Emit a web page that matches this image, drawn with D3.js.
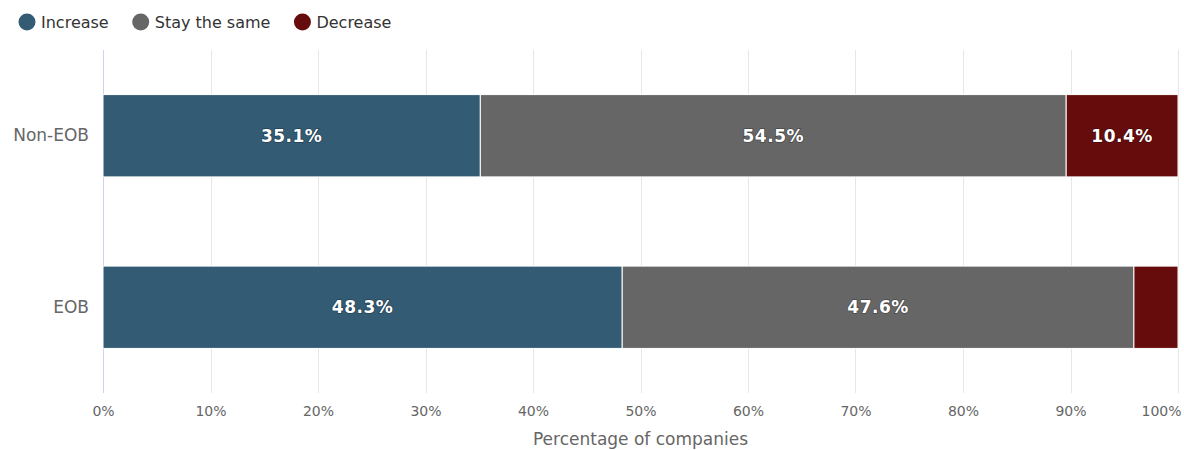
<!DOCTYPE html>
<html>
<head>
<meta charset="utf-8">
<script src="https://cdn.jsdelivr.net/npm/d3@7/dist/d3.min.js"></script>
<style>
  html, body { margin: 0; padding: 0; background: #fff; }
  svg { display: block; }
</style>
</head>
<body>
<svg id="chart" width="1184" height="450"></svg>
<script>
// Share of companies by expected change, per group (percent)
const categories = ["Non-EOB", "EOB"];
const seriesNames = ["Increase", "Stay the same", "Decrease"];
const increase = [35.1, 48.3];
const staySame = [54.5, 47.6];
const decrease = [10.4, 4.1];
const colors = ["#335b74", "#666666", "#660c0c"];
const xTicks = [0, 10, 20, 30, 40, 50, 60, 70, 80, 90, 100];
const xTitle = "Percentage of companies";

const FONT = "'DejaVu Sans', Verdana, sans-serif";
const seriesValues = [increase, staySame, decrease];
const rows = categories.map((c, i) => {
  const r = { category: c };
  seriesNames.forEach((s, k) => { r[s] = seriesValues[k][i]; });
  return r;
});
const stacked = d3.stack().keys(seriesNames)(rows);

const svg = d3.select("#chart");
const margin = { left: 103, right: 6, top: 50, bottom: 57 };
const W = 1184, H = 450;

const x = d3.scaleLinear().domain([0, 100]).range([margin.left, W - margin.right]);
const y = d3.scaleBand().domain(categories).range([margin.top, H - margin.bottom]).paddingInner(0.52).paddingOuter(0.26);

// vertical grid lines
svg.append("g").selectAll("line").data(xTicks).join("line")
  .attr("x1", d => Math.round(x(d)) + 0.5).attr("x2", d => Math.round(x(d)) + 0.5)
  .attr("y1", margin.top).attr("y2", H - margin.bottom)
  .attr("stroke", d => d === 0 ? "#ccd6eb" : "#e6e6e6").attr("stroke-width", 1);

// x axis labels (last one kept inside the chart edge)
const xAxis = d3.axisBottom(x).tickValues(xTicks).tickFormat(d => d + "%").tickSize(0).tickPadding(13);
const gx = svg.append("g").attr("transform", `translate(0,${H - margin.bottom})`).call(xAxis);
gx.select(".domain").remove();
gx.selectAll("text").attr("fill", "#666666").style("font-family", FONT).style("font-size", "14px");
gx.selectAll(".tick").filter(d => d === 100).select("text")
  .attr("text-anchor", "end").attr("x", 3);

// x axis title
svg.append("text").attr("x", (margin.left + W - margin.right) / 2).attr("y", 445)
  .attr("text-anchor", "middle").attr("fill", "#666666")
  .style("font-family", FONT).style("font-size", "17px").text(xTitle);

// y axis labels
const yAxis = d3.axisLeft(y).tickSize(0).tickPadding(14);
const gy = svg.append("g").attr("transform", `translate(${margin.left},0)`).call(yAxis);
gy.select(".domain").remove();
gy.selectAll("text").attr("fill", "#666666").style("font-family", FONT).style("font-size", "17px");

// stacked bars
const layers = svg.append("g").selectAll("g").data(stacked).join("g")
  .attr("fill", (d, i) => colors[i]);
layers.selectAll("rect").data(d => d.map(v => ({ v, cat: v.data.category }))).join("rect")
  .attr("x", d => x(d.v[0]))
  .attr("y", d => y(d.cat))
  .attr("width", d => x(d.v[1]) - x(d.v[0]))
  .attr("height", y.bandwidth())
  .attr("stroke", "#ffffff").attr("stroke-width", 1);

// data labels inside segments wide enough to hold them
const labels = [];
stacked.forEach(layer => layer.forEach(v => {
  const val = v[1] - v[0];
  if (x(v[1]) - x(v[0]) > 70) labels.push({ cx: (x(v[0]) + x(v[1])) / 2, cy: y(v.data.category) + y.bandwidth() / 2, val });
}));
svg.append("g").selectAll("text").data(labels).join("text")
  .attr("x", d => d.cx).attr("y", d => d.cy).attr("dy", "0.36em")
  .attr("text-anchor", "middle")
  .attr("fill", "#ffffff").attr("stroke", "#000000").attr("stroke-opacity", 0.3).attr("stroke-width", 1.6)
  .attr("paint-order", "stroke")
  .style("font-family", FONT).style("font-weight", "bold").style("font-size", "17px")
  .style("letter-spacing", "0.5px")
  .text(d => d.val.toFixed(1) + "%");

// legend
const legend = svg.append("g").attr("transform", "translate(18,22)");
let lx = 0;
seriesNames.forEach((name, i) => {
  const g = legend.append("g").attr("transform", `translate(${lx},0)`);
  g.append("circle").attr("cx", 9).attr("cy", 0).attr("r", 8.5).attr("fill", colors[i]);
  const t = g.append("text").attr("x", 23).attr("y", 0).attr("dy", "0.35em")
    .attr("fill", "#333333").style("font-family", FONT).style("font-size", "16px").text(name);
  lx += 23 + t.node().getComputedTextLength() + 23;
});
</script>
</body>
</html>
